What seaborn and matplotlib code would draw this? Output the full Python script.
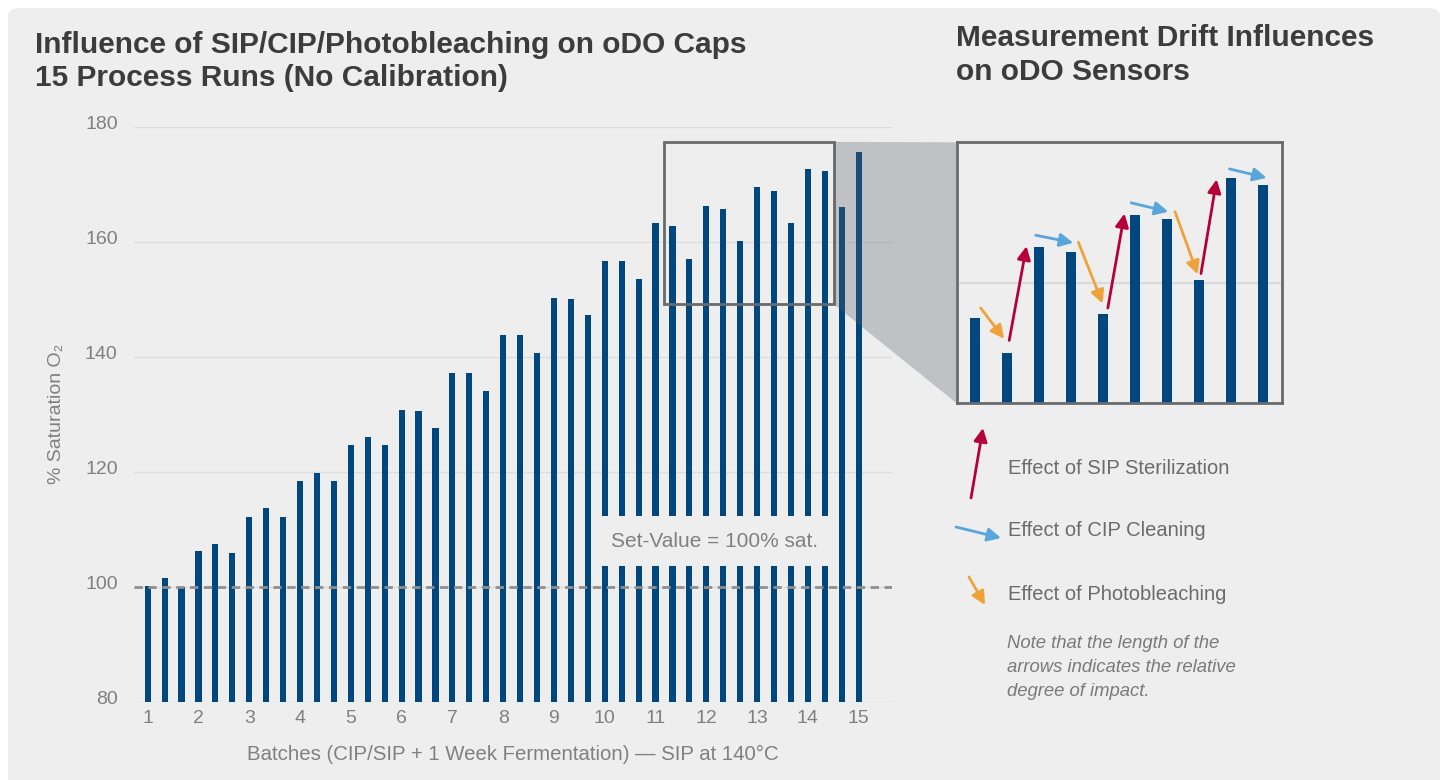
import numpy as np
import matplotlib.pyplot as plt
import matplotlib.transforms as mtransforms
import seaborn as sns
from matplotlib.patches import Rectangle, Polygon, FancyBboxPatch

sns.set_theme(style="whitegrid")
plt.rcParams['font.family'] = ['Liberation Sans', 'DejaVu Sans']

# 1. DATA

# % saturation per run (3 readings per batch, last batch one reading)
sat_values = [100.1, 101.5, 100.0, 106.2, 107.4, 105.8, 112.1, 113.7, 112.1,
              118.3, 119.8, 118.3, 124.6, 126.0, 124.6, 130.7, 130.6, 127.6,
              137.1, 137.1, 134.0, 143.8, 143.8, 140.7, 150.2, 150.0, 147.2,
              156.7, 156.7, 153.5, 163.2, 162.7, 157.0, 166.3, 165.7, 160.2,
              169.5, 168.8, 163.2, 172.7, 172.3, 166.0, 175.6]
batch_labels = [str(i) for i in range(1, 16)]
y_ticks = [80, 100, 120, 140, 160, 180]
set_value = 100

# zoomed inset (relative heights)
inset_values = [32.5, 19.1, 59.8, 57.9, 34.1, 72.1, 70.6, 47.1, 86.3, 83.6]
inset_grid = 46.1

# drift arrows in the inset: (kind, start, end) in inset data coords
arrow_kinds = ['photo', 'sip', 'cip', 'photo', 'sip', 'cip', 'photo', 'sip', 'cip']
arrow_starts = [(0.18, 36.5), (1.07, 24.1), (1.90, 64.4), (3.23, 61.7), (4.15, 36.5),
                (4.88, 76.8), (6.25, 73.4), (7.06, 49.7), (7.95, 89.8)]
arrow_ends = [(0.91, 24.7), (1.61, 60.2), (3.07, 61.5), (3.99, 38.2), (4.67, 72.7),
              (6.04, 73.4), (6.96, 49.4), (7.55, 85.8), (9.11, 86.4)]

legend_kinds = ['sip', 'cip', 'photo']
legend_texts = ['Effect of SIP Sterilization', 'Effect of CIP Cleaning',
                'Effect of Photobleaching']

colors = {'sip': '#b5003a', 'cip': '#58a6dc', 'photo': '#f0a23a'}
bar_color = '#00467f'
bg = '#eeeeee'
grey_txt = '#808080'

W, H = 1447, 780


def px(x, y):
    return x / W, 1 - y / H


# 2. FIGURE

fig = plt.figure(figsize=(W / 100, H / 100), dpi=100, facecolor='white')
panel = FancyBboxPatch(px(8, 780 + 20), (1440 - 8) / W, (780 + 20 - 8) / H,
                       boxstyle="round,pad=0,rounding_size=0.01",
                       transform=fig.transFigure, facecolor=bg, edgecolor='none',
                       zorder=-10)
fig.patches.append(panel)

# main chart
ax_top, ax_bot = 126.9, 701.5
ax = fig.add_axes([134.3 / W, (H - ax_bot) / H, (891.7 - 134.3) / W, (ax_bot - ax_top) / H])
ax.set_facecolor('none')
idx = np.arange(len(sat_values))
sns.barplot(x=idx, y=sat_values, color=bar_color, saturation=1, width=0.36,
            linewidth=0, ax=ax, zorder=2)
ax.set_ylim(80, 180)
ax.set_xlim(-0.79, 43.95)
ax.set_yticks(y_ticks)
ax.set_xticks(idx[::3])
ax.set_xticklabels(batch_labels)
ax.grid(axis='x', visible=False)
ax.grid(axis='y', color='#dcdcdc', lw=1)
for s in ax.spines.values():
    s.set_visible(False)
ax.tick_params(axis='both', length=0, labelsize=14, labelcolor=grey_txt)
ax.tick_params(axis='x', pad=6)
ax.tick_params(axis='y', pad=12)
# y labels sit a little above their gridlines in the original
shift = mtransforms.ScaledTranslation(0, 4 / 100, fig.dpi_scale_trans)
for lab in ax.get_yticklabels():
    lab.set_transform(lab.get_transform() + shift)
ax.set_xlabel('Batches (CIP/SIP + 1 Week Fermentation) \u2014 SIP at 140\u00b0C',
              fontsize=14.7, color=grey_txt, labelpad=13)
ax.set_ylabel('% Saturation O\u2082', fontsize=14, color=grey_txt, labelpad=14)

ax.axhline(set_value, color='#8f8f8f', lw=2, dashes=(3, 2), zorder=4)
ax.add_patch(Rectangle((26.5, 103.6), 14, 8.6, facecolor=bg, edgecolor='none', zorder=3))
ax.text(33.5, 107.8, 'Set-Value = 100% sat.', ha='center', va='center',
        fontsize=15, color=grey_txt, zorder=5)

# zoom frame
ax.add_patch(Rectangle((30.5, 149.1), 10.05, 28.3, fill=False, edgecolor='#6a6a6a',
                       lw=2, zorder=5))

# inset chart
ax2 = fig.add_axes([956.7 / W, (780 - 403.3) / H, 325.6 / W, 261 / H])
ax2.set_zorder(3)
ax2.set_facecolor(bg)
sns.barplot(x=np.arange(len(inset_values)), y=inset_values, color=bar_color,
            saturation=1, width=0.31, linewidth=0, ax=ax2, zorder=2)
ax2.set_xlim(-0.57, 9.6)
ax2.set_ylim(0, 100)
ax2.grid(False)
ax2.axhline(inset_grid, color='#dadada', lw=1.5, zorder=1)
ax2.set_xticks([])
ax2.set_yticks([])
ax2.set_xlabel('')
for s in ax2.spines.values():
    s.set_visible(True)
    s.set_color('#6a6a6a')
    s.set_linewidth(2)

for kind, a, b in zip(arrow_kinds, arrow_starts, arrow_ends):
    ax2.annotate('', xy=b, xytext=a,
                 arrowprops=dict(arrowstyle='-|>', color=colors[kind], lw=2,
                                 mutation_scale=20, shrinkA=0, shrinkB=0), zorder=4)

# projection from zoom frame to inset
fig.canvas.draw()
to_fig = fig.transFigure.inverted()
pts = [ax.transData.transform((40.55, 177.4)),
       ax2.transAxes.transform((0, 1)),
       ax2.transAxes.transform((0, 0)),
       ax.transData.transform((40.55, 149.1))]
pts = [to_fig.transform(p) for p in pts]
fig.add_artist(Polygon(pts, closed=True, transform=fig.transFigure,
                       facecolor='#565c66', edgecolor='none', alpha=0.3, zorder=1))

# 3. TEXT + LEGEND

title_kw = dict(fontsize=21.5, fontweight='bold', color='#3c3c3c', va='center')
fig.text(*px(35, 45), 'Influence of SIP/CIP/Photobleaching on oDO Caps', **title_kw)
fig.text(*px(35, 78), '15 Process Runs (No Calibration)', **title_kw)
fig.text(*px(956, 38), 'Measurement Drift Influences', **title_kw)
fig.text(*px(956, 72), 'on oDO Sensors', **title_kw)

legend_arrows = {'sip': ((971, 498), (983, 428)),
                 'cip': ((956, 527), (1001, 538)),
                 'photo': ((969, 577), (985, 605))}
legend_y = [469, 531, 594]
for kind, label, ty in zip(legend_kinds, legend_texts, legend_y):
    a, b = legend_arrows[kind]
    fig.add_artist(plt.Annotation('', xy=px(*b), xytext=px(*a),
                                  xycoords='figure fraction', textcoords='figure fraction',
                                  arrowprops=dict(arrowstyle='-|>', color=colors[kind], lw=2,
                                                  mutation_scale=20, shrinkA=0, shrinkB=0)))
    fig.text(*px(1008, ty), label, fontsize=14.5, color='#6b6b6b', va='center')

note = ['Note that the length of the', 'arrows indicates the relative', 'degree of impact.']
for i, line in enumerate(note):
    fig.text(*px(1007, 643 + 24 * i), line, fontsize=13.3, style='italic',
             color='#7a7a7a', va='center')

fig.savefig('out.png', dpi=100, facecolor='white')
